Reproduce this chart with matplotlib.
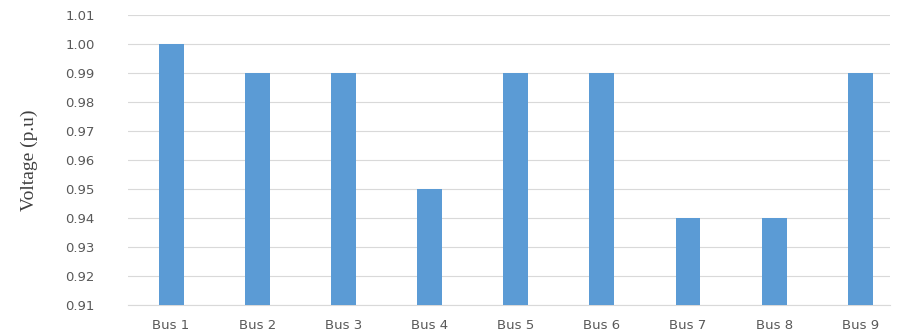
import matplotlib.pyplot as plt
import numpy as np

# Bus voltage magnitudes (per unit)
buses = ['Bus 1', 'Bus 2', 'Bus 3', 'Bus 4', 'Bus 5', 'Bus 6', 'Bus 7', 'Bus 8', 'Bus 9']
voltages = [1.00, 0.99, 0.99, 0.95, 0.99, 0.99, 0.94, 0.94, 0.99]
yticks = [0.91, 0.92, 0.93, 0.94, 0.95, 0.96, 0.97, 0.98, 0.99, 1.00, 1.01]

fig = plt.figure(figsize=(8.97, 3.34), dpi=100)
ax = fig.add_axes([0.1427, 0.0868, 0.85, 0.868])

x = np.arange(len(buses))
ax.bar(x, voltages, width=0.29, color='#5B9BD5', zorder=3)

ax.set_ylim(0.91, 1.01)
ax.set_xlim(-0.5, 8.35)
ax.set_yticks(yticks)
ax.set_yticklabels(['%.2f' % v for v in yticks])
ax.set_xticks(x)
ax.set_xticklabels(buses)

ax.grid(axis='y', color='#D9D9D9', linewidth=0.8, zorder=0)
for s in ['top', 'right', 'left']:
    ax.spines[s].set_visible(False)
ax.spines['bottom'].set_color('#D9D9D9')
ax.tick_params(axis='both', length=0, labelsize=9.5, colors='#595959')
ax.tick_params(axis='x', pad=10)
ax.tick_params(axis='y', pad=24)

ax.set_ylabel('Voltage (p.u)', family='Liberation Serif', fontsize=14,
              color='#404040')
ax.yaxis.set_label_coords(-0.118, 0.5)

fig.savefig('out.png', dpi=100)
